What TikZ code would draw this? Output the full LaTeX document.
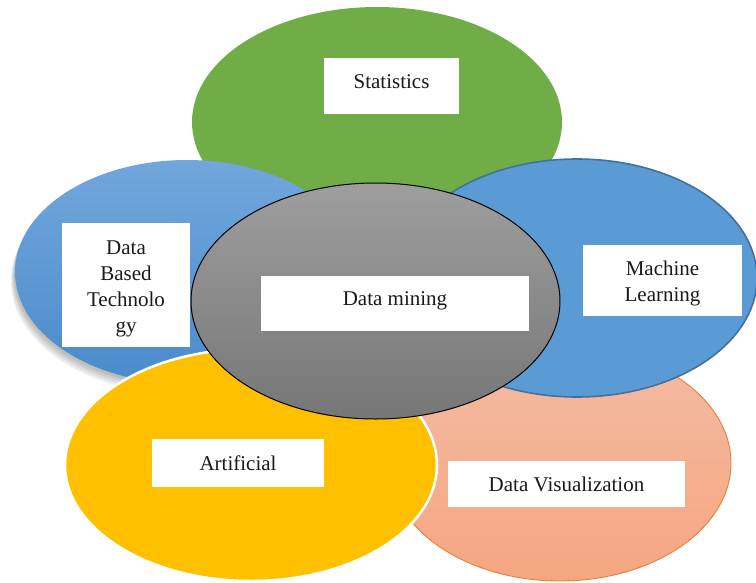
\documentclass[tikz,border=0pt]{standalone}
\usepackage{fontspec}
\setmainfont{Liberation Serif}
\usetikzlibrary{shapes.geometric}
\definecolor{cgreen}{HTML}{70AD47}
\definecolor{lbluetop}{HTML}{72A7DC}
\definecolor{lbluebot}{HTML}{4A8BCB}
\definecolor{mlblue}{HTML}{5B9BD5}
\definecolor{mlborder}{HTML}{41719C}
\definecolor{peachtop}{HTML}{F4BBA3}
\definecolor{peachbot}{HTML}{F5A681}
\definecolor{peachborder}{HTML}{ED7D31}
\definecolor{cyellow}{HTML}{FFC000}
\definecolor{graytop}{HTML}{9E9E9E}
\definecolor{graybot}{HTML}{767676}
\definecolor{txt}{HTML}{1A1A1A}
\tikzset{
  blob/.style={ellipse, inner sep=0pt, outer sep=0pt},
  labelbox/.style={rectangle, fill=white, inner sep=0pt, outer sep=0pt},
  labeltext/.style={font=\fontsize{21}{26}\selectfont, text=txt, align=center, inner sep=0pt},
  shadowblob/.style={ellipse, inner sep=0pt, fill=black, opacity=0.07}
}
\begin{document}
\begin{tikzpicture}[x=1pt,y=-1pt]
\useasboundingbox (0,0) rectangle (756,582);
% Statistics
\node[blob, fill=cgreen, minimum width=370pt, minimum height=230pt] (stat) at (377,122) {};
% shadow of left blue
\node[shadowblob, minimum width=344pt, minimum height=224pt] (sh1) at (186,275) {};
\node[shadowblob, minimum width=345pt, minimum height=225pt] (sh2) at (185.5,277) {};
\node[shadowblob, minimum width=346pt, minimum height=226pt] (sh3) at (185,279) {};
\node[shadowblob, minimum width=347pt, minimum height=227pt] (sh4) at (184.5,281) {};
% Data based technology
\node[blob, top color=lbluetop, bottom color=lbluebot, minimum width=344pt, minimum height=224pt] (dbt) at (187,272) {};
% Data visualization
\node[blob, top color=peachtop, bottom color=peachbot, draw=peachborder, line width=0.9pt, minimum width=342pt, minimum height=236pt] (viz) at (560,463) {};
% Machine learning
\node[blob, fill=mlblue, draw=mlborder, line width=1.6pt, minimum width=360pt, minimum height=238pt] (ml) at (577,278) {};
% Artificial
\node[blob, fill=cyellow, draw=white, line width=2.5pt, minimum width=372pt, minimum height=232pt] (art) at (251,465) {};
% Data mining
\node[blob, top color=graytop, bottom color=graybot, draw=black, line width=1pt, minimum width=369pt, minimum height=236pt] (dm) at (375.5,301) {};
% label boxes
\node[labelbox, minimum width=135pt, minimum height=56pt] (statbox) at (391.5,86) {};
\node[labeltext] (stattext) at (391.5,82) {Statistics};
\node[labelbox, minimum width=128pt, minimum height=124pt] (dbtbox) at (126,285) {};
\node[labeltext] (dbttext) at (126,289) {Data\\Based\\Technolo\\gy};
\node[labelbox, minimum width=159pt, minimum height=71pt] (mlbox) at (662.5,280.5) {};
\node[labeltext] (mltext) at (662.5,283) {Machine\\Learning};
\node[labelbox, minimum width=268pt, minimum height=55pt] (dmbox) at (395,303.5) {};
\node[labeltext] (dmtext) at (395,301) {Data mining};
\node[labelbox, minimum width=172pt, minimum height=48pt] (artbox) at (238,463) {};
\node[labeltext] (arttext) at (238,463) {Artificial};
\node[labelbox, minimum width=237pt, minimum height=46pt] (vizbox) at (566.5,484) {};
\node[labeltext] (viztext) at (566.5,484) {Data Visualization};
\end{tikzpicture}
\end{document}
